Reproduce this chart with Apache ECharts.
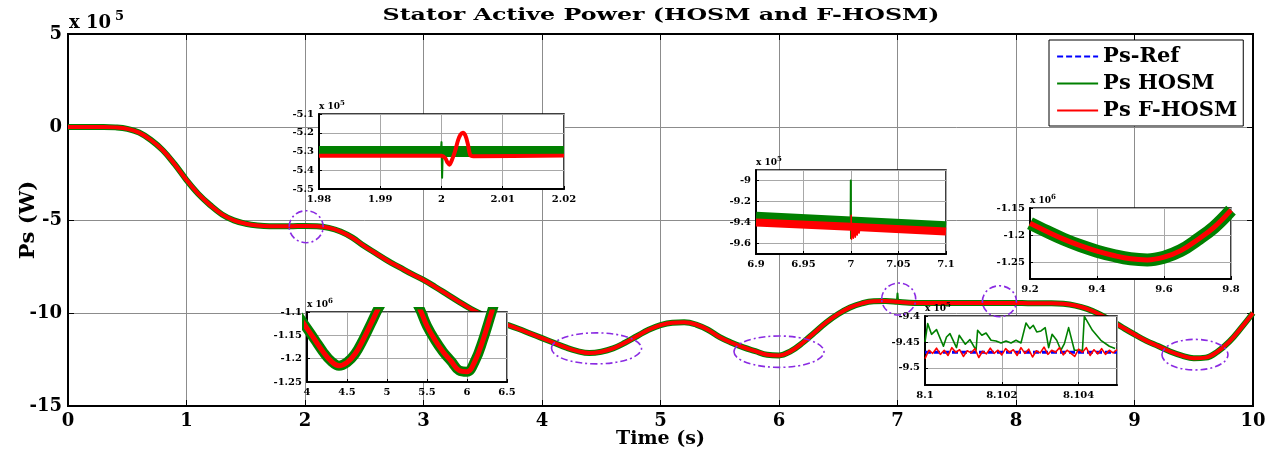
<!DOCTYPE html>
<html>
<head>
<meta charset="utf-8">
<script src="https://cdn.jsdelivr.net/npm/echarts@6/dist/echarts.min.js"></script>
<style>
  html, body { margin: 0; padding: 0; background: #fff; }
  #chart { width: 1274px; height: 457px; }
</style>
</head>
<body>
<div id="chart"></div>
<script>
// ---------- Full run: stator active power, units of 10^5 W ----------
const timeMain = [0,0.1,0.2,0.3,0.4,0.5,0.6,0.7,0.8,0.9,
  1,1.1,1.2,1.3,1.4,1.5,1.6,1.7,1.8,1.9,
  2,2.1,2.2,2.3,2.4,2.5,2.6,2.7,2.8,2.9,
  3,3.1,3.2,3.3,3.4,3.5,3.6,3.7,3.8,3.9,
  4,4.1,4.2,4.3,4.4,4.5,4.6,4.7,4.8,4.9,
  5,5.1,5.2,5.3,5.4,5.5,5.6,5.7,5.8,5.9,
  6,6.1,6.2,6.3,6.4,6.5,6.6,6.7,6.8,6.9,
  7,7.1,7.2,7.3,7.4,7.5,7.6,7.7,7.8,7.9,
  8,8.1,8.2,8.3,8.4,8.5,8.6,8.7,8.8,8.9,
  9,9.1,9.2,9.3,9.4,9.5,9.6,9.7,9.8,9.9,10];
const psMain = [0,0,0,0,-0.02,-0.1,-0.3,-0.7,-1.25,-2.0,
  -2.85,-3.6,-4.2,-4.7,-5.02,-5.2,-5.3,-5.34,-5.34,-5.33,
  -5.32,-5.33,-5.42,-5.62,-5.95,-6.4,-6.8,-7.2,-7.55,-7.9,
  -8.22,-8.6,-9.0,-9.4,-9.78,-10.1,-10.4,-10.62,-10.85,-11.1,
  -11.35,-11.6,-11.85,-12.05,-12.15,-12.08,-11.9,-11.6,-11.25,-10.9,
  -10.65,-10.52,-10.5,-10.62,-10.9,-11.3,-11.6,-11.85,-12.05,-12.25,
  -12.28,-12.05,-11.6,-11.05,-10.5,-10.05,-9.7,-9.48,-9.37,-9.36,
  -9.4,-9.45,-9.46,-9.46,-9.46,-9.46,-9.46,-9.46,-9.46,-9.46,
  -9.46,-9.47,-9.47,-9.47,-9.5,-9.6,-9.78,-10.05,-10.4,-10.78,
  -11.15,-11.5,-11.78,-12.07,-12.29,-12.43,-12.4,-12.08,-11.54,-10.8,-10.0];
// HOSM spike at the 7 s step
const hosmSpikeTime = [6.995, 7.0, 7.005];
const hosmSpikeMain = [-9.4, -8.95, -9.4];

// ---------- Zoom 1.98 - 2.02 s (10^5 W) ----------
const timeA = [1.98, 2.02];
const refA = [-5.322, -5.322];
const hosmBandA = [-5.30, -5.30];
const hosmStepTimeA = [1.9999, 2.0, 2.0001, 2.0002, 2.0003];
const hosmStepA = [-5.30, -5.25, -5.44, -5.30, -5.30];
const fhosmTimeA = [1.98, 2.0, 2.0006, 2.001, 2.0013, 2.0017, 2.0022, 2.0027, 2.0031, 2.0035, 2.0039, 2.0043, 2.0047, 2.0052, 2.02];
const fhosmA = [-5.322, -5.322, -5.335, -5.36, -5.37, -5.345, -5.30, -5.24, -5.21, -5.20, -5.215, -5.26, -5.32, -5.325, -5.322];

// ---------- Zoom 6.9 - 7.1 s (10^5 W) ----------
const timeB = [6.9, 7.0, 7.1];
const refB = [-9.40, -9.44, -9.485];
const hosmBandB = [-9.355, -9.40, -9.445];
const fhosmBandB = [-9.40, -9.44, -9.485];
const hosmStepTimeB = [6.9996, 6.9998, 7.0, 7.0002, 7.0006];
const hosmStepB = [-9.40, -9.0, -9.55, -9.42, -9.40];
const fhosmStepTimeB = [7.0, 7.0002, 7.0006, 7.0015, 7.0025, 7.0035, 7.0045, 7.0055, 7.0065, 7.0075, 7.0085, 7.0095, 7.0105];
const fhosmStepB = [-9.44, -9.33, -9.56, -9.47, -9.55, -9.46, -9.54, -9.47, -9.52, -9.46, -9.50, -9.45, -9.44];

// ---------- Zoom 9.2 - 9.8 s (10^6 W) ----------
const timeC = [9.2, 9.25, 9.3, 9.35, 9.4, 9.45, 9.5, 9.55, 9.6, 9.65, 9.7, 9.75, 9.8];
const psC = [-1.178, -1.193, -1.207, -1.219, -1.229, -1.237, -1.243, -1.245, -1.24, -1.228, -1.208, -1.185, -1.154];

// ---------- Zoom 8.1 - 8.105 s (10^5 W) ----------
const timeERef = [8.1, 8.105];
const refE = [-9.47, -9.47];
const hosmTimeE = [8.1, 8.10007, 8.10017, 8.1003, 8.10048, 8.10056, 8.10065, 8.10082, 8.10089, 8.10105,
  8.10117, 8.10133, 8.10137, 8.10148, 8.10159, 8.10172, 8.10185, 8.10198, 8.10211, 8.10224,
  8.10237, 8.1025, 8.10263, 8.10273, 8.10282, 8.10291, 8.10302, 8.10313, 8.10322, 8.10331,
  8.10343, 8.10354, 8.10363, 8.10374, 8.10389, 8.1041, 8.10415, 8.10436, 8.10458, 8.1048, 8.10495];
const hosmE = [-9.45, -9.4147, -9.4353, -9.4263, -9.4583, -9.4404, -9.434, -9.4609, -9.4372, -9.4545,
  -9.4455, -9.466, -9.4276, -9.4372, -9.4327, -9.4468, -9.4481, -9.4519, -9.4481, -9.4519,
  -9.4468, -9.4519, -9.4135, -9.4244, -9.4179, -9.4308, -9.4288, -9.4224, -9.4609, -9.4353,
  -9.4468, -9.466, -9.4532, -9.4224, -9.466, -9.466, -9.4006, -9.4276, -9.4468, -9.4583, -9.4628];
const fhosmTimeE = [8.1, 8.1001, 8.1002, 8.1003, 8.1004, 8.1005, 8.1006, 8.1007, 8.1008, 8.1009,
  8.101, 8.1011, 8.1012, 8.1013, 8.1014, 8.1015, 8.1016, 8.1017, 8.1018, 8.1019,
  8.102, 8.1021, 8.1022, 8.1023, 8.1024, 8.1025, 8.1026, 8.1027, 8.1028, 8.1029,
  8.103, 8.1031, 8.1032, 8.1033, 8.1034, 8.1035, 8.1036, 8.1037, 8.1038, 8.1039,
  8.104, 8.1041, 8.1042, 8.1043, 8.1044, 8.1045, 8.1046, 8.1047, 8.1048, 8.1049, 8.105];
const fhosmE = [-9.482, -9.466, -9.472, -9.462, -9.474, -9.466, -9.476, -9.461, -9.47, -9.465,
  -9.478, -9.467, -9.471, -9.463, -9.48, -9.468, -9.473, -9.462, -9.472, -9.466,
  -9.475, -9.463, -9.47, -9.465, -9.476, -9.461, -9.472, -9.464, -9.479, -9.467,
  -9.471, -9.46, -9.474, -9.466, -9.47, -9.461, -9.475, -9.466, -9.472, -9.478,
  -9.464, -9.47, -9.461, -9.476, -9.465, -9.473, -9.463, -9.474, -9.466, -9.471, -9.465];

// Dash-dot rings drawn round the zoomed regions (centre in time / 10^5 W)
const zoomRings = [
  [2.01, -5.36], [4.46, -11.9], [6.0, -12.08], [7.01, -9.25], [7.86, -9.37], [9.51, -12.24]
];
const ringRadii = [[17, 16], [45, 15.5], [45, 15.7], [17, 16], [17, 15.5], [33, 15.3]];

const SERIES_NAMES = ['Ps-Ref', 'Ps HOSM', 'Ps F-HOSM'];
const TITLE = 'Stator Active Power (HOSM and F-HOSM)';
const FONT = '"DejaVu Serif","Liberation Serif",serif';
const BLUE = '#0000ff', GREEN = '#008000', RED = '#ff0000';

const zip = (xs, ys) => xs.map((x, i) => [x, ys[i]]);

function line(name, axis, data, color, width, z, opts) {
  opts = opts || {};
  return {
    type: 'line', name: name,
    xAxisIndex: axis[0], yAxisIndex: axis[1],
    data: data, symbol: 'none', showSymbol: false,
    smooth: opts.smooth || false,
    lineStyle: { color: color, width: width, type: opts.dash ? [6, 3] : 'solid', cap: 'butt', join: 'round' },
    itemStyle: { color: color },
    z: z, silent: true, animation: false
  };
}

// Axis index pairs for each grid
const AX_MAIN = [0, 0], AX_A = [2, 2], AX_B = [3, 3], AX_C = [4, 4], AX_D = [5, 5], AX_E = [6, 6];

const labelFont = { color: '#000', fontFamily: FONT, fontWeight: 'bold' };

function insetX(grid, min, max, interval, hideMax) {
  return {
    type: 'value', gridIndex: grid, min: min, max: max, interval: interval, z: 11,
    axisLine: { show: true, onZero: false, lineStyle: { color: '#000', width: 2 } },
    axisTick: { show: true, inside: true, length: 3, lineStyle: { color: '#000' } },
    axisLabel: Object.assign({ fontSize: 10, margin: 5, showMaxLabel: !hideMax }, labelFont),
    splitLine: { show: true, lineStyle: { color: '#a8a8a8', width: 1 } }
  };
}
function insetY(grid, min, max, opt) {
  return Object.assign({
    type: 'value', gridIndex: grid, min: min, max: max, z: 11,
    axisLine: { show: true, onZero: false, lineStyle: { color: '#000', width: 2 } },
    axisTick: { show: true, inside: true, length: 3, lineStyle: { color: '#000' } },
    axisLabel: Object.assign({ fontSize: 10, margin: 5 }, labelFont, opt.label || {}),
    splitLine: { show: true, lineStyle: { color: '#a8a8a8', width: 1 } }
  }, opt.extra || {});
}

const insetGrid = (left, top, width, height) => ({
  left: left, top: top, width: width, height: height, show: true, outerBoundsMode: 'none',
  backgroundColor: '#fff', borderColor: '#000', borderWidth: 1.5, z: 10
});

const psInsetD = psMain.map(v => v / 10);

const option = {
  animation: false,
  backgroundColor: '#fff',
  grid: [
    { left: 68, right: 21, top: 34, bottom: 51, show: true, outerBoundsMode: 'none', containLabel: false,
      borderColor: '#000', borderWidth: 2, backgroundColor: 'transparent', z: 1 },
    insetGrid(319, 114, 245, 75),
    insetGrid(756, 170, 190, 84),
    insetGrid(1030, 208, 201, 71),
    insetGrid(307, 312, 200, 70),
    insetGrid(925, 316, 192, 69)
  ],
  xAxis: [
    {
      type: 'value', gridIndex: 0, min: 0, max: 10, interval: 1, position: 'bottom',
      axisLine: { show: true, onZero: false, lineStyle: { color: '#000', width: 2 } },
      axisTick: { show: true, inside: true, length: 6, lineStyle: { color: '#000' } },
      axisLabel: Object.assign({ fontSize: 18, margin: 6 }, labelFont),
      splitLine: { show: true, lineStyle: { color: '#8c8c8c', width: 1 } },
      name: 'Time (s)', nameLocation: 'middle', nameGap: 24, nameMoveOverlap: false,
      nameTextStyle: Object.assign({ fontSize: 19 }, labelFont)
    },
    {
      type: 'value', gridIndex: 0, min: 0, max: 10, interval: 1, position: 'top',
      axisLine: { show: true, onZero: false, lineStyle: { color: '#000', width: 2 } },
      axisTick: { show: true, inside: true, length: 6, lineStyle: { color: '#000' } },
      axisLabel: { show: false }, splitLine: { show: false }
    },
    insetX(1, 1.98, 2.02, 0.01),
    insetX(2, 6.9, 7.1, 0.05),
    insetX(3, 9.2, 9.8, 0.2),
    insetX(4, 4, 6.5, 0.5),
    insetX(5, 8.1, 8.105, 0.002, true)
  ],
  yAxis: [
    {
      type: 'value', gridIndex: 0, min: -15, max: 5, interval: 5, position: 'left',
      axisLine: { show: true, onZero: false, lineStyle: { color: '#000', width: 2 } },
      axisTick: { show: true, inside: true, length: 6, lineStyle: { color: '#000' } },
      axisLabel: Object.assign({ fontSize: 18, margin: 6 }, labelFont),
      splitLine: { show: true, lineStyle: { color: '#8c8c8c', width: 1 } },
      name: 'Ps (W)', nameLocation: 'middle', nameGap: 29, nameMoveOverlap: false,
      nameTextStyle: Object.assign({ fontSize: 21 }, labelFont)
    },
    {
      type: 'value', gridIndex: 0, min: -15, max: 5, interval: 5, position: 'right',
      axisLine: { show: true, onZero: false, lineStyle: { color: '#000', width: 2 } },
      axisTick: { show: true, inside: true, length: 6, lineStyle: { color: '#000' } },
      axisLabel: { show: false }, splitLine: { show: false }
    },
    insetY(1, -5.5, -5.1, { extra: { interval: 0.1 } }),
    insetY(2, -9.7, -8.9, { extra: { splitNumber: 4 }, label: { showMinLabel: false, showMaxLabel: false } }),
    insetY(3, -1.28, -1.15, { extra: { splitNumber: 3 }, label: { showMinLabel: false } }),
    insetY(4, -1.25, -1.1, { extra: { interval: 0.05 } }),
    insetY(5, -9.533, -9.4, { extra: { splitNumber: 3 }, label: { showMinLabel: false } })
  ],
  legend: {
    data: SERIES_NAMES,
    orient: 'vertical', left: 1049, top: 40,
    itemWidth: 41, itemHeight: 14, itemGap: 6,
    padding: [6, 6, 5, 7],
    backgroundColor: '#fff', borderColor: '#000', borderWidth: 1,
    lineStyle: { width: 2.2 },
    itemStyle: { opacity: 0 },
    textStyle: Object.assign({ fontSize: 21, padding: [0, 0, 0, 0] }, labelFont),
    selectedMode: false, z: 30
  },
  series: [
    // full run
    line(SERIES_NAMES[0], AX_MAIN, zip(timeMain, psMain), BLUE, 2, 2, { dash: true, smooth: 0.4 }),
    line(SERIES_NAMES[1], AX_MAIN, zip(timeMain, psMain), GREEN, 6, 3, { smooth: 0.4 }),
    line(SERIES_NAMES[1], AX_MAIN, zip(hosmSpikeTime, hosmSpikeMain), GREEN, 2, 3),
    line(SERIES_NAMES[2], AX_MAIN, zip(timeMain, psMain), RED, 4, 4, { smooth: 0.4 }),

    // 1.98 - 2.02 s
    line(SERIES_NAMES[0], AX_A, zip(timeA, refA), BLUE, 2, 12, { dash: true }),
    line(SERIES_NAMES[1], AX_A, zip(timeA, hosmBandA), GREEN, 11, 13),
    line(SERIES_NAMES[1], AX_A, zip(hosmStepTimeA, hosmStepA), GREEN, 2, 13),
    line(SERIES_NAMES[2], AX_A, zip(fhosmTimeA, fhosmA), RED, 4, 14, { smooth: 0.3 }),

    // 6.9 - 7.1 s
    line(SERIES_NAMES[0], AX_B, zip(timeB, refB), BLUE, 2, 12, { dash: true }),
    line(SERIES_NAMES[1], AX_B, zip(timeB, hosmBandB), GREEN, 12, 13),
    line(SERIES_NAMES[1], AX_B, zip(hosmStepTimeB, hosmStepB), GREEN, 2, 13),
    line(SERIES_NAMES[2], AX_B, zip(timeB, fhosmBandB), RED, 8, 14),
    line(SERIES_NAMES[2], AX_B, zip(fhosmStepTimeB, fhosmStepB), RED, 1.5, 14),

    // 9.2 - 9.8 s
    line(SERIES_NAMES[0], AX_C, zip(timeC, psC), BLUE, 2, 12, { dash: true, smooth: 0.4 }),
    line(SERIES_NAMES[1], AX_C, zip(timeC, psC), GREEN, 13, 13, { smooth: 0.4 }),
    line(SERIES_NAMES[2], AX_C, zip(timeC, psC), RED, 5, 14, { smooth: 0.4 }),

    // 4 - 6.5 s
    line(SERIES_NAMES[0], AX_D, zip(timeMain, psInsetD), BLUE, 2, 12, { dash: true, smooth: 0.4 }),
    line(SERIES_NAMES[1], AX_D, zip(timeMain, psInsetD), GREEN, 10, 13, { smooth: 0.4 }),
    line(SERIES_NAMES[2], AX_D, zip(timeMain, psInsetD), RED, 5, 14, { smooth: 0.4 }),

    // 8.1 - 8.105 s
    line(SERIES_NAMES[0], AX_E, zip(timeERef, refE), BLUE, 3, 12, { dash: true }),
    line(SERIES_NAMES[1], AX_E, zip(hosmTimeE, hosmE), GREEN, 1.6, 13),
    line(SERIES_NAMES[2], AX_E, zip(fhosmTimeE, fhosmE), RED, 1.6, 14)
  ]
};

const chart = echarts.init(document.getElementById('chart'), null, { renderer: 'canvas' });
chart.setOption(option);

// Title, exponent labels and the dash-dot rings
function expLabel(x, y, power, big) {
  const f1 = big ? 18 : 9, f2 = big ? 13 : 7;
  const w = big ? 46 : 21;
  return [
    { type: 'text', x: x, y: y, z: 40, style: { text: 'x 10', fill: '#000', font: 'bold ' + f1 + 'px ' + FONT, align: 'left', verticalAlign: 'bottom' } },
    { type: 'text', x: x + w, y: y - (big ? 9 : 4), z: 40, style: { text: String(power), fill: '#000', font: 'bold ' + f2 + 'px ' + FONT, align: 'left', verticalAlign: 'bottom' } }
  ];
}

// The title is stretched to span the same width as the plot heading
const titleFont = 'bold 17px ' + FONT;
const measure = document.createElement('canvas').getContext('2d');
measure.font = titleFont;
const titleScale = 557 / measure.measureText(TITLE).width;

const graphics = [
  { type: 'text', x: 661, y: 16, z: 40, scaleX: titleScale,
    style: { text: TITLE, fill: '#000', font: titleFont, align: 'center', verticalAlign: 'middle' } }
].concat(
  expLabel(69, 32, 5, true),
  expLabel(319, 111, 5), expLabel(756, 167, 5), expLabel(1030, 205, 6),
  expLabel(307, 309, 6), expLabel(925, 313, 5)
);

zoomRings.forEach((c, i) => {
  const p = chart.convertToPixel({ xAxisIndex: 0, yAxisIndex: 0 }, c);
  graphics.push({
    type: 'ellipse', z: 25, silent: true,
    shape: { cx: p[0], cy: p[1], rx: ringRadii[i][0], ry: ringRadii[i][1] },
    style: { fill: 'none', stroke: '#8a2be2', lineWidth: 1.6, lineDash: [7, 3, 2, 3] }
  });
});

chart.setOption({ graphic: graphics });
</script>
</body>
</html>
